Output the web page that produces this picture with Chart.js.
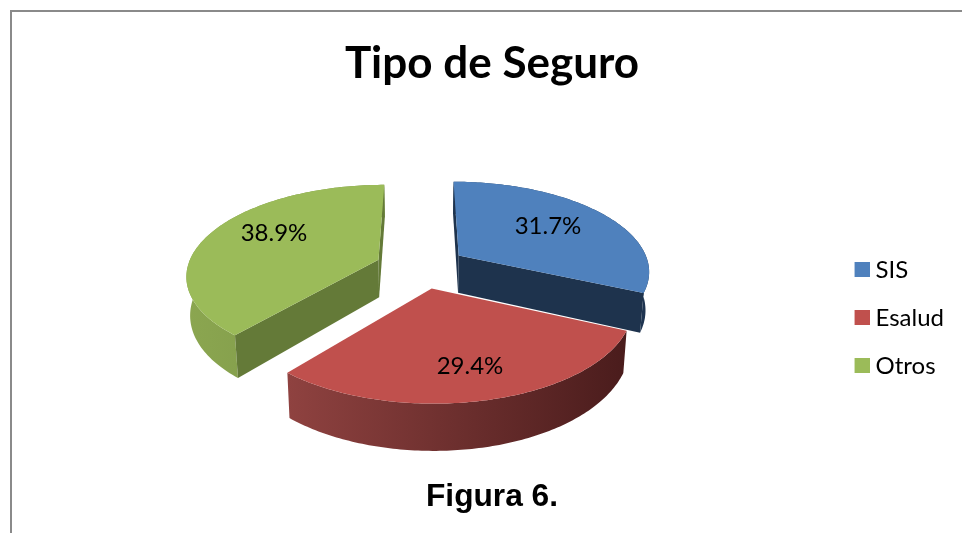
<!DOCTYPE html>
<html><head><meta charset="utf-8">
<style>html,body{margin:0;padding:0;background:#fff;overflow:hidden}
#wrap{position:absolute;left:0;top:0;width:962px;height:533px}
#frame{position:absolute;left:10px;top:10px;width:980px;height:540px;border:2px solid #8a8a8a;box-sizing:border-box;pointer-events:none}</style>
<script src="https://cdn.jsdelivr.net/npm/chart.js@4/dist/chart.umd.min.js"></script>
</head><body>
<div id="frame"></div>
<div id="wrap"><canvas id="c" width="962" height="533"></canvas></div>
<script>
const categories = ['SIS','Esalud','Otros'];
const percentages = [31.7,29.4,38.9];
const topColors = ['#4f81bd','#c0504d','#9bbb59'];
const titleText = 'Tipo de Seguro';
const captionText = 'Figura 6.';

const view = {cx:421, cy:267, rx:191, k:89, p:0.159, depth:38, explode:0.24, taper:0.016};
const walls = [
  {from:'#2c4a6e',to:'#1e3450',cut:'#1e334d'},
  {from:'#8f4240',to:'#4a1c1c',cut:'#4a1c1c'},
  {from:'#8ba650',to:'#7a9446',cut:'#647a38'}
];

function project(X,Y,z){
  const w = 1 - view.p*Y;
  return [view.cx + view.rx*X/w*(1-view.taper*z), view.cy + (view.k*Y + z*view.depth)/w];
}
function swatch(color){
  const s=document.createElement('canvas');s.width=27;s.height=15;
  const g=s.getContext('2d');g.fillStyle=color;g.fillRect(12,0,15,15);
  return s;
}
const pie3d = {
  id:'pie3d',
  beforeDatasetsDraw(chart){
    const ctx = chart.ctx, arcs = chart.getDatasetMeta(0).data;
    const geo = arcs.map(a=>{
      const p = a.getProps(['startAngle','endAngle']);
      const mid = (p.startAngle+p.endAngle)/2;
      return {s:p.startAngle,e:p.endAngle,ax:Math.cos(mid)*view.explode,ay:Math.sin(mid)*view.explode};
    });
    const rim = (g,n)=>{const o=[];for(let i=0;i<=n;i++){const t=g.s+(g.e-g.s)*i/n;o.push([g.ax+Math.cos(t),g.ay+Math.sin(t)]);}return o;};
    const poly = pts=>{ctx.beginPath();pts.forEach((q,i)=>i?ctx.lineTo(q[0],q[1]):ctx.moveTo(q[0],q[1]));ctx.closePath();};
    [2,0,1].forEach(i=>{
      const g=geo[i], r=rim(g,120);
      const vis=r.map(q=>project(q[0],q[1],0));
      const low=r.map(q=>project(q[0],q[1],1));
      const xs=vis.map(q=>q[0]);
      const grad=ctx.createLinearGradient(Math.min(...xs),0,Math.max(...xs),0);
      grad.addColorStop(0,walls[i].from);grad.addColorStop(1,walls[i].to);
      ctx.fillStyle=grad;
      poly(vis.concat(low.slice().reverse()));ctx.fill();
      // cut faces that look towards the viewer only
      ctx.fillStyle=walls[i].cut;
      [[r[0],g.s-Math.PI/2],[r[r.length-1],g.e+Math.PI/2]].forEach(([q,n])=>{
        if(Math.sin(n)<-0.01) return;
        poly([project(g.ax,g.ay,0),project(q[0],q[1],0),project(q[0],q[1],1),project(g.ax,g.ay,1)]);ctx.fill();
      });
      ctx.fillStyle=topColors[i];
      poly([project(g.ax,g.ay,0)].concat(vis));ctx.fill();
    });
    ctx.fillStyle='#000';ctx.font='24px Lato, Carlito, sans-serif';ctx.textAlign='center';ctx.textBaseline='middle';
    const labelPos=[[548,226],[470,366],[274,233]];
    percentages.forEach((v,i)=>ctx.fillText(v.toFixed(1)+'%',labelPos[i][0],labelPos[i][1]));
    return true;
  },
  beforeDatasetDraw(){return false;}
};
new Chart(document.getElementById('c'),{
  type:'pie',
  data:{labels:categories,datasets:[{data:percentages,backgroundColor:topColors,borderWidth:0}]},
  options:{
    responsive:false,animation:false,
    rotation:0,
    layout:{padding:{left:30,right:8,top:37,bottom:17}},
    plugins:{
      tooltip:{enabled:false},
      legend:{position:'right',fullSize:false,labels:{boxWidth:15,boxHeight:15,usePointStyle:true,padding:24,color:'#000',font:{family:'Lato',size:24},
        generateLabels:()=>categories.map((t,i)=>({text:t,fillStyle:topColors[i],pointStyle:swatch(topColors[i]),lineWidth:0,fontColor:'#000',index:i}))}},
      title:{display:true,text:titleText,color:'#000',font:{family:'Lato',size:44,weight:'bold'},padding:{top:0,bottom:78}},
      subtitle:{display:true,text:captionText,position:'bottom',color:'#000',font:{family:'Liberation Sans',size:31.7,weight:'bold'},padding:{top:10,bottom:0}}
    }
  },
  plugins:[pie3d]
});
</script></body></html>
